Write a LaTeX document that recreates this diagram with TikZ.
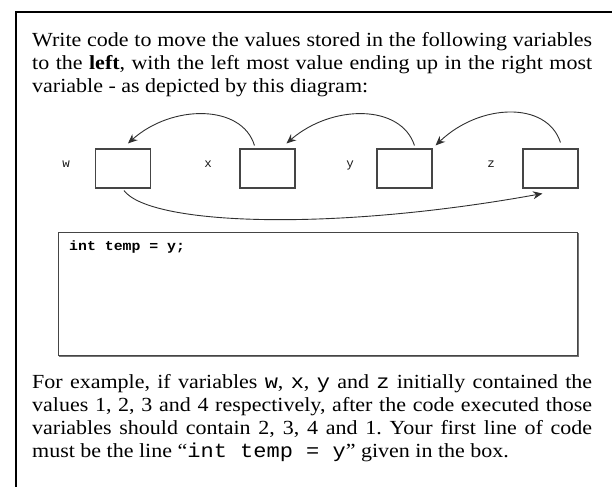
\documentclass[tikz,border=0pt]{standalone}
\usepackage{fontspec}
\setmainfont[FakeStretch=1.1]{Liberation Serif}
\newfontfamily\monofnt{Liberation Mono}
\newfontfamily\monowide[FakeStretch=1.1]{Liberation Mono}
\usetikzlibrary{arrows.meta,calc}
\definecolor{boxgray}{HTML}{454545}
\definecolor{arrowgray}{HTML}{303030}
\frenchspacing
\begin{document}
\begin{tikzpicture}[x=1pt,y=-1pt,
  varbox/.style={draw=boxgray,line width=1.1pt,minimum width=55pt,minimum height=39pt,inner sep=0pt},
  varlabel/.style={font=\monofnt\fontsize{12.5}{14}\selectfont,anchor=base,inner sep=0pt,text=black!90},
  para/.style={font=\fontsize{20}{23}\selectfont,text width=560pt,align=justify,inner sep=0pt,anchor=base west},
  codebox/.style={draw=boxgray,line width=1pt,minimum width=519pt,minimum height=123pt,inner sep=0pt},
  moveline/.style={draw=arrowgray,line width=0.9pt,-{Stealth[length=9.5pt,width=8pt]}}
]
\useasboundingbox (0,0) rectangle (612,487);
% frame
\draw[line width=1.8pt] (612,12) -- (16,12) -- (16,487);
% top paragraph
\node[para] (intro) at (32,46) {Write code to move the values stored in the following variables\linebreak
to the \textbf{left}, with the left most value ending up in the right most\linebreak
variable - as depicted by this diagram:};
% variables
\node[varlabel] (lw) at (66,167.5) {w};
\node[varlabel] (lx) at (208,167.5) {x};
\node[varlabel] (ly) at (350,167.5) {y};
\node[varlabel] (lz) at (491,167.5) {z};
\node[varbox] (bw) at (123,168.5) {};
\node[varbox] (bx) at (267.5,168.5) {};
\node[varbox] (by) at (404.5,168.5) {};
\node[varbox] (bz) at (550.5,168.5) {};
% arrows
\draw[moveline] ($(bx.north west)+(15,-3)$) .. controls (242,104) and (172,104) .. ($(bw.north west)+(33,-5)$);
\draw[moveline] ($(by.north west)+(38,-3)$) .. controls (401,104) and (332,104) .. ($(bx.north west)+(47,-5)$);
\draw[moveline] ($(bz.north west)+(38,-6)$) .. controls (547,101) and (480,103) .. ($(by.north east)+(3,-3)$);
\draw[moveline] ($(bw.south west)+(29,2)$) .. controls (150,225) and (330,232) .. ($(bz.south west)+(20,5)$);
% code box
\node[codebox] (code) at (317.5,293.5) {};
\draw[line width=1pt,draw=black!55] ($(code.south west)+(1,1)$) -- ($(code.south east)+(1,1)$) -- ($(code.north east)+(1,1)$);
\node[anchor=base west,inner sep=0pt,font=\monowide\bfseries\fontsize{13.5}{16}\selectfont] (codeline) at (69,250) {int temp = y;};
% bottom paragraph
\node[para] (example) at (32,388) {For example, if variables {\monowide w}, {\monowide x}, {\monowide y} and {\monowide z} initially contained the\linebreak
values 1, 2, 3 and 4 respectively, after the code executed those\linebreak
variables should contain 2, 3, 4 and 1. Your first line of code\linebreak
must be the line \textquotedblleft{\monowide int temp = y}\textquotedblright{} given in the box.};
\end{tikzpicture}
\end{document}
